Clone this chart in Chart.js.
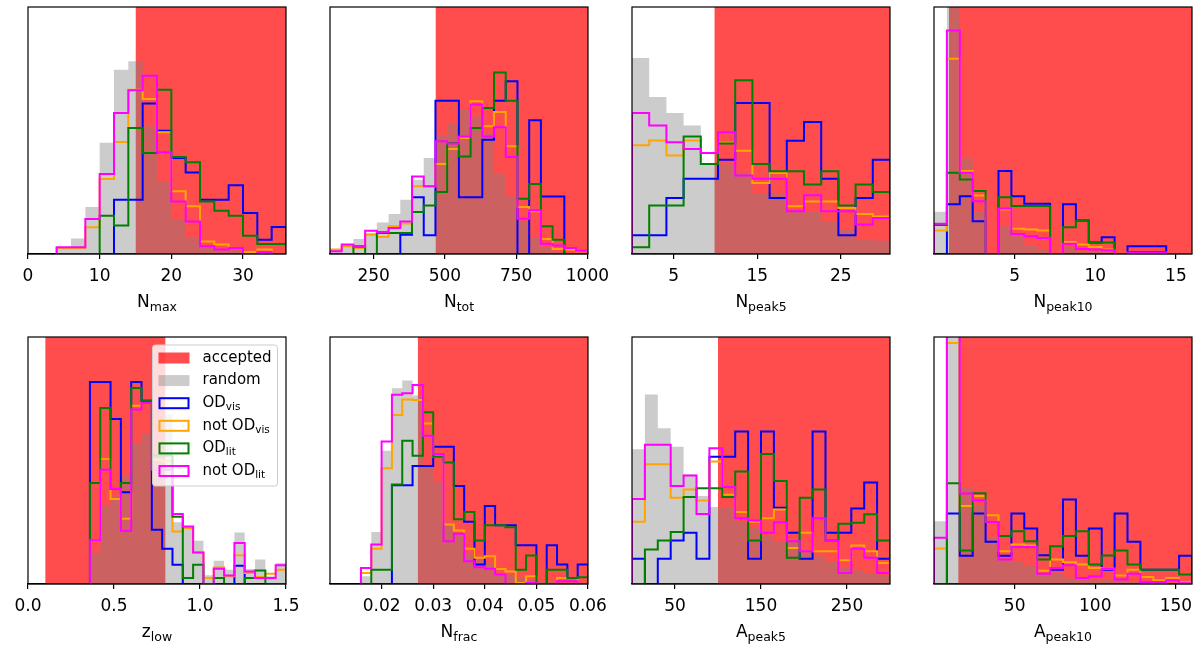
<!DOCTYPE html>
<html>
<head>
<meta charset="utf-8">
<script src="https://cdn.jsdelivr.net/npm/chart.js@4.4.1/dist/chart.umd.min.js"></script>
<style>
html, body { margin: 0; padding: 0; background: #fff; width: 1200px; height: 650px; overflow: hidden; }
canvas { position: absolute; }
</style>
</head>
<body>
<script>
// x axis of each panel: label, range, ticks
const axisMain = ['N', 'N', 'N', 'N', 'z', 'N', 'A', 'A']
const axisSub = ['max', 'tot', 'peak5', 'peak10', 'low', 'frac', 'peak5', 'peak10']
const xMin = [0, 97, 0, 0, 0, 0.01, 0, 0]
const xMax = [36, 1002, 30.9, 16, 1.5, 0.06, 300, 160]
const tickValues = [[0, 10, 20, 30], [250, 500, 750, 1000], [5, 15, 25], [5, 10, 15],
                    [0, 0.5, 1, 1.5], [0.02, 0.03, 0.04, 0.05, 0.06], [50, 150, 250], [50, 100, 150]]
const tickLabels = [['0', '10', '20', '30'], ['250', '500', '750', '1000'], ['5', '15', '25'], ['5', '10', '15'],
                    ['0.0', '0.5', '1.0', '1.5'], ['0.02', '0.03', '0.04', '0.05', '0.06'], ['50', '150', '250'], ['50', '100', '150']]

// accepted range (red band)
const acceptedLow = [15, 467, 9.86, 0.93, 0.1, 0.027, 100, 15]
const acceptedHigh = [36, 1002, 30.9, 16, 0.8, 0.06, 300, 160]

// histogram bins
const binStart = [4, 97, 0, 0, 0.36, 0.016, 0, 0]
const binWidth = [2, 41.1, 2.06, 0.8, 0.06, 0.002, 15, 8]

// N_max
const nmaxRandom = [2.4, 6.3, 19, 45, 74.6, 78, 51.7, 29.4, 13.9, 6.5, 3.1, 2.0, 1.5, 1.0, 0.5, 0.3]
const nmaxODvis = [0, 0, 0, 0, 22, 22, 60.9, 49.9, 38.9, 33, 22, 22, 27.8, 16.6, 5.8, 10.9]
const nmaxNotODvis = [2.4, 2.4, 10.8, 30.4, 45.3, 66.5, 62.8, 49.3, 25.4, 19.3, 5.1, 3.8, 2.4, 0.8, 1.8, 0]
const nmaxODlit = [0, 0, 0, 15.5, 11.5, 51, 40.9, 66.5, 39.3, 37.1, 21.3, 17.5, 15.5, 7.4, 4, 4]
const nmaxNotODlit = [2.7, 2.7, 14.2, 32.4, 57.1, 66.3, 72.2, 41.2, 21.3, 13.2, 3.1, 1.8, 2.4, 0, 0.8, 0]

// N_tot
const ntotRandom = [1.8, 3.8, 6.1, 8.5, 12.8, 16.2, 22, 30.1, 38.9, 48.3, 53, 58.7, 55.7, 49, 32.4, 23.3, 13.2, 6.5, 2.4, 1.1, 0.4, 0.1]
const ntotODvis = [0, 0, 0, 0, 0, 0, 7.8, 23, 7.6, 62, 62, 23, 23, 46.3, 62, 69.9, 0, 54.1, 23.3, 23.3, 0, 0]
const ntotNotODvis = [1.8, 3.1, 2.4, 7.8, 6.9, 11.2, 12.3, 27.4, 27.4, 36.4, 42.5, 47, 61.8, 51.7, 57.5, 43.6, 19, 17.3, 6.1, 2, 1.8, 1.1]
const ntotODlit = [0, 0, 3.1, 0, 8.5, 8.5, 8.5, 17, 19.6, 25.1, 44.9, 39.5, 51, 59.1, 73.5, 62, 22.4, 28.3, 11.2, 5.8, 0, 0]
const ntotNotODlit = [1.1, 3.8, 2.8, 9.4, 8.9, 10.5, 13.2, 31.4, 27.4, 45.6, 44.7, 47.6, 60.5, 47.6, 51.3, 39.3, 14.3, 17.7, 4.2, 3.4, 2.4, 1.3]

// N_peak5
const np5Random = [79.4, 63.6, 57.1, 52, 36.6, 36.2, 33, 24.7, 24.7, 17, 17, 13.2, 9.9, 6.1, 5.5]
const np5ODvis = [7.6, 7.6, 22.7, 30.5, 30.5, 38.2, 61.1, 61.1, 22.7, 45.9, 53.4, 30.5, 7.6, 22.7, 38.2]
const np5NotODvis = [44, 46, 39.9, 46, 40.9, 45, 41.8, 28.7, 32.8, 19.3, 21.3, 21.3, 18.6, 16.2, 15.2]
const np5ODlit = [2.7, 19.6, 19.6, 47.6, 36.4, 44.7, 70.3, 36.4, 33.5, 33.5, 28.1, 33.5, 19.6, 28.1, 25.1]
const np5NotODlit = [57.1, 52, 45.2, 42.5, 40.9, 49.3, 31.8, 30.5, 30.5, 17.3, 23.8, 17.3, 17.3, 11.9, 14.6]

// N_peak10
const np10Random = [17.1, 130, 38.8, 17.1, 0, 11.2, 7.2, 3.4, 2, 0, 2.4, 1, 0.8, 0.7, 0, 0.4, 0.3, 0.2, 0, 0.1]
const np10ODvis = [0, 20.1, 23.4, 13.3, 0, 33.6, 23.4, 20.3, 20.3, 0, 20.1, 13.6, 4.7, 6.8, 0, 3.1, 3.1, 3.1, 0, 0]
const np10NotODvis = [9.5, 79, 33.6, 23.7, 0, 18, 10.2, 9.9, 9.5, 0, 4.9, 3.8, 2.8, 1.8, 0, 0.7, 0.7, 0.7, 0, 0]
const np10ODlit = [11.7, 32.9, 30.2, 25.5, 0, 23, 19.4, 19.4, 19.4, 0, 10.8, 13.6, 4.7, 4.7, 0, 0.8, 0.8, 0.8, 0, 0]
const np10NotODlit = [12.2, 90.5, 32.9, 21.4, 0, 18.4, 8.1, 7.2, 6.5, 0, 4.2, 2, 1.8, 1.5, 0, 0.4, 0.4, 0.4, 0, 0]

// z_low
const zlowRandom = [12.8, 31.8, 35.5, 44, 57.1, 60.7, 52, 68.6, 25, 22.3, 17.5, 3.5, 9.4, 5.8, 20.9, 6.1, 9.9, 3.1, 8.5]
const zlowODvis = [81.8, 81.8, 66.8, 37.1, 81.8, 74.2, 22, 14.3, 7.8, 0, 0, 0, 0, 0, 7.4, 0, 0, 0, 0]
const zlowNotODvis = [17.7, 50.6, 34.4, 26.4, 72.2, 73.3, 50.3, 49.7, 21.3, 22.7, 12.8, 2.4, 6.7, 3.1, 11.6, 4.5, 2.8, 4.2, 5.8]
const zlowODlit = [40.9, 71.3, 38.5, 40.9, 79.4, 74.2, 52, 52, 27.2, 2.4, 7.8, 0, 2.4, 0, 0, 2.4, 5.5, 0, 0]
const zlowNotODlit = [17.7, 46.3, 38.6, 21.6, 70.6, 73.3, 46.3, 46.3, 28.3, 23.3, 12.8, 0, 6.2, 3.4, 16.6, 5.1, 2.4, 2.4, 7.6]

// N_frac
const nfracRandom = [3.1, 21.1, 53.9, 79.3, 82.4, 76.3, 47.8, 41.7, 24.8, 20.3, 12.6, 9.9, 8.5, 4.5, 3.8, 2.4, 1.8, 1.1, 0.7, 0.4, 0.4, 0.1]
const nfracODvis = [0, 0, 0, 40, 40, 47.8, 47.8, 55.6, 55.6, 39.7, 25.2, 7.9, 31.6, 23.8, 23.8, 15.7, 15.7, 0, 15.7, 7.9, 2.4, 7.9]
const nfracNotODvis = [4.5, 14.3, 46.9, 68.4, 74.7, 74.5, 65, 51.5, 24.1, 21.7, 14.3, 10.6, 11.2, 6.1, 5.1, 0.4, 3.1, 0, 0, 2.4, 2.4, 0]
const nfracODlit = [0, 5.8, 5.8, 40.3, 58, 51.9, 69.5, 51.5, 49.2, 26.2, 29.1, 17.6, 23.8, 23.8, 23, 5.8, 11.5, 0, 5.8, 5.8, 2.4, 2.7]
const nfracNotODlit = [6.5, 16, 57.7, 76.6, 77.2, 80.6, 60, 52.6, 17.3, 20.3, 9.2, 6.8, 6.2, 3.8, 0, 0, 0.4, 0, 0, 1.1, 1.1, 0]

// A_peak5
const ap5Random = [54.6, 76.7, 63.1, 55.6, 44.3, 35.6, 31.2, 31.2, 25.5, 22.8, 19.8, 17.1, 17.1, 13.3, 11.2, 9.2, 6.9, 5.6, 4.1, 3.5]
const ap5ODvis = [10.2, 0, 10.2, 17.6, 20.7, 10.2, 51.5, 51.5, 61.7, 10.2, 61.7, 30.9, 20.7, 10.2, 61.7, 20.7, 20.7, 30.6, 41.1, 10.2]
const ap5NotODvis = [25.2, 48.5, 48.5, 34.9, 38.3, 33.8, 49.6, 36.1, 29.1, 25.2, 26.6, 30.2, 14.6, 20.7, 13.3, 13.3, 9.6, 15.6, 13.3, 8.5]
const ap5ODlit = [0, 14, 17.6, 21.1, 35.2, 38.8, 38.8, 35.2, 45.5, 17.6, 52.6, 41.7, 10.6, 34.9, 38.3, 17.6, 24.4, 24.8, 28.2, 17.6]
const ap5NotODlit = [34.4, 56.4, 56.4, 39.7, 43.9, 28.3, 55, 39.3, 26.6, 25.7, 20.7, 25, 17.3, 13.3, 26.6, 17.6, 4.5, 14.3, 10.6, 4.5]

// A_peak10
const ap10Random = [25.4, 130, 39, 31.8, 18.9, 9.8, 8.9, 7.5, 4.5, 4.1, 2.8, 2.4, 2, 1.8, 1.5, 1.1, 0.8, 0.7, 0.4, 0.4]
const ap10ODvis = [0, 28.5, 11.4, 28.5, 17.1, 11.4, 28.5, 22.5, 11.6, 5.8, 34.2, 11.4, 22.5, 5.8, 28.5, 17.1, 5.8, 5.8, 5.8, 11.4]
const ap10NotODvis = [14.4, 97.6, 31.6, 35.6, 27.8, 13.3, 16, 15.6, 5.4, 9.9, 8.8, 7.9, 6.5, 6.2, 3.4, 5.8, 2.8, 1.5, 2.4, 0.7]
const ap10ODlit = [0, 40.8, 13.6, 36.7, 25.1, 19.4, 21.4, 17.3, 9.9, 15.3, 19.4, 21.4, 7.9, 11.5, 13.6, 7.9, 5.8, 5.8, 5.8, 3.8]
const ap10NotODlit = [18.7, 101, 36.6, 33.9, 25.1, 9.9, 15, 15, 4.1, 6.5, 7.6, 2.4, 3.1, 6.2, 1.8, 4.1, 0.8, 0.8, 1.5, 0.3]

const randomHists = [nmaxRandom, ntotRandom, np5Random, np10Random, zlowRandom, nfracRandom, ap5Random, ap10Random]
const odVisHists = [nmaxODvis, ntotODvis, np5ODvis, np10ODvis, zlowODvis, nfracODvis, ap5ODvis, ap10ODvis]
const notOdVisHists = [nmaxNotODvis, ntotNotODvis, np5NotODvis, np10NotODvis, zlowNotODvis, nfracNotODvis, ap5NotODvis, ap10NotODvis]
const odLitHists = [nmaxODlit, ntotODlit, np5ODlit, np10ODlit, zlowODlit, nfracODlit, ap5ODlit, ap10ODlit]
const notOdLitHists = [nmaxNotODlit, ntotNotODlit, np5NotODlit, np10NotODlit, zlowNotODlit, nfracNotODlit, ap5NotODlit, ap10NotODlit]

const legendMain = ['accepted', 'random', 'OD', 'not OD', 'OD', 'not OD']
const legendSub = ['', '', 'vis', 'vis', 'lit', 'lit']

// layout
const axLeft = [28, 330, 632, 934, 28, 330, 632, 934]
const axTop = [7, 7, 7, 7, 337, 337, 337, 337]
const AX_W = 258, PAD_L = 40, PAD_R = 25, CANVAS_H = 320

const RED = 'rgba(255,0,0,0.7)'
const GRAY = 'rgba(128,128,128,0.4)'
const lineColors = ['#0000ff', '#ffa500', '#008000', '#ff00ff']

Chart.defaults.font.family = '"DejaVu Sans", sans-serif'

function stepPoints(i, counts) {
    let pts = [{x: binStart[i], y: 0}]
    counts.forEach(function(c, k){
        pts.push({x: binStart[i] + k * binWidth[i], y: c})
    })
    pts.push({x: binStart[i] + counts.length * binWidth[i], y: 0})
    return pts
}

// text with a subscript, left aligned at x; returns width
function subText(ctx, x, y, main, sub, size, subSize, drop) {
    ctx.font = size + 'px "DejaVu Sans"'
    ctx.fillText(main, x, y)
    let w = ctx.measureText(main).width
    if (sub) {
        ctx.font = subSize + 'px "DejaVu Sans"'
        ctx.fillText(sub, x + w, y + drop)
        w += ctx.measureText(sub).width
    }
    return w
}

function measureSub(ctx, main, sub, size, subSize) {
    ctx.font = size + 'px "DejaVu Sans"'
    let w = ctx.measureText(main).width
    ctx.font = subSize + 'px "DejaVu Sans"'
    return w + (sub ? ctx.measureText(sub).width : 0)
}

const framePlugin = {
    id: 'frame',
    afterDraw(chart, args, opts) {
        const a = chart.chartArea
        const ctx = chart.ctx
        const i = opts.panel
        ctx.save()
        ctx.strokeStyle = '#000'
        ctx.lineWidth = 1.2
        ctx.strokeRect(a.left, a.top, a.right - a.left, a.bottom - a.top)

        // axis title with subscript
        ctx.fillStyle = '#000'
        ctx.textBaseline = 'alphabetic'
        const tw = measureSub(ctx, axisMain[i], axisSub[i], 17, 12.5)
        subText(ctx, (a.left + a.right) / 2 - tw / 2, a.bottom + 53, axisMain[i], axisSub[i], 17, 12.5, 4)

        if (opts.legend) {
            const bw = 125, bh = 141
            const bx = a.right - 8.5 - bw, by = a.top + 8
            ctx.beginPath()
            ctx.roundRect(bx, by, bw, bh, 3)
            ctx.fillStyle = 'rgba(255,255,255,0.8)'
            ctx.fill()
            ctx.strokeStyle = '#cccccc'
            ctx.lineWidth = 1
            ctx.stroke()
            for (let k = 0; k < legendMain.length; k++) {
                const cy = by + 13 + k * 22.6
                if (k === 0 || k === 1) {
                    ctx.fillStyle = k === 0 ? RED : GRAY
                    ctx.fillRect(bx + 6, cy - 5.5, 31, 11)
                } else {
                    ctx.strokeStyle = lineColors[k - 2]
                    ctx.lineWidth = 2
                    ctx.strokeRect(bx + 7, cy - 5, 29, 10)
                }
                ctx.fillStyle = '#000'
                ctx.textBaseline = 'middle'
                subText(ctx, bx + 50, cy, legendMain[k], legendSub[k], 15, 10.5, 4)
            }
        }
        ctx.restore()
    }
}

function makePanel(i) {
    let cv = document.createElement('canvas')
    cv.width = PAD_L + AX_W + PAD_R
    cv.height = CANVAS_H
    cv.style.left = (axLeft[i] - PAD_L) + 'px'
    cv.style.top = (axTop[i] - 7) + 'px'
    document.body.appendChild(cv)

    const hists = [odVisHists[i], notOdVisHists[i], odLitHists[i], notOdLitHists[i]]
    let datasets = [
        {
            data: [{x: acceptedLow[i], y: 100}, {x: acceptedHigh[i], y: 100}],
            backgroundColor: RED, borderColor: 'rgba(0,0,0,0)', borderWidth: 0,
            fill: 'origin', pointRadius: 0, order: 6
        },
        {
            data: stepPoints(i, randomHists[i]),
            backgroundColor: GRAY, borderColor: 'rgba(0,0,0,0)', borderWidth: 0,
            fill: 'origin', stepped: 'before', pointRadius: 0, order: 5
        }
    ]
    hists.forEach(function(h, k){
        datasets.push({
            data: stepPoints(i, h),
            borderColor: lineColors[k], borderWidth: 2, borderJoinStyle: 'miter',
            fill: false, stepped: 'before', pointRadius: 0, order: 4 - k
        })
    })

    new Chart(cv.getContext('2d'), {
        type: 'line',
        data: {datasets: datasets},
        options: {
            responsive: false,
            animation: false,
            events: [],
            layout: {padding: {left: PAD_L, right: PAD_R, top: 7, bottom: 26}},
            plugins: {
                legend: {display: false},
                tooltip: {enabled: false},
                frame: {panel: i, legend: i === 4}
            },
            scales: {
                x: {
                    type: 'linear', min: xMin[i], max: xMax[i],
                    grid: {drawOnChartArea: false, drawTicks: true, tickLength: 5, color: '#000', lineWidth: 1.2},
                    border: {display: true, color: '#000', width: 1.2},
                    ticks: {
                        color: '#000', font: {size: 17}, maxRotation: 0, autoSkip: false, padding: 7,
                        callback: function(v, k){ return tickLabels[i][k] }
                    },
                    afterBuildTicks: function(s){ s.ticks = tickValues[i].map(function(v){ return {value: v} }) },
                    afterFit: function(s){ s.height = 40; s.paddingLeft = 0; s.paddingRight = 0 }
                },
                y: {display: false, min: 0, max: 100}
            }
        },
        plugins: [framePlugin]
    })
}

for (let i = 0; i < 8; i++) {
    makePanel(i)
}
</script>
</body>
</html>
